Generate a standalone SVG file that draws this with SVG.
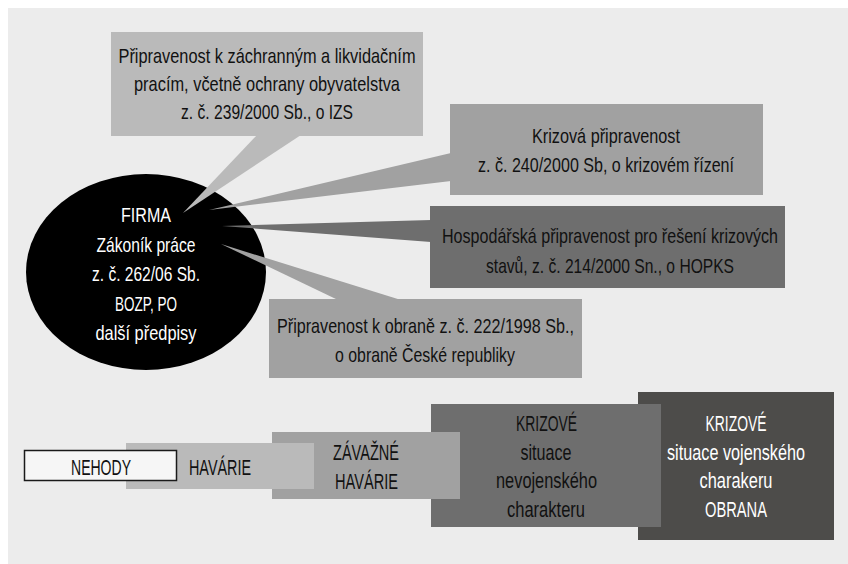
<svg xmlns="http://www.w3.org/2000/svg" width="848" height="564" viewBox="0 0 848 564">
<style>
text{font-family:"Liberation Sans",Arial,sans-serif;font-size:21px;text-anchor:middle;fill:#111}
.b{font-size:22px}
.w{fill:#fff}
.l1{fill:#bababa}
.l2{fill:#a1a1a1}
.l3{fill:#6e6e6e}
.l4{fill:#4d4c4a}
</style>
<rect x="0" y="0" width="848" height="564" fill="#ffffff"/>
<rect x="8" y="8" width="840" height="556" fill="#ececec"/>
<g id="firma">
<ellipse cx="146" cy="272" rx="120" ry="98" fill="#000"/>
<text class="w" x="146" y="222" textLength="50" lengthAdjust="spacingAndGlyphs">FIRMA</text>
<text class="w" x="146" y="252" textLength="99" lengthAdjust="spacingAndGlyphs">Zákoník práce</text>
<text class="w" x="146" y="281" textLength="108" lengthAdjust="spacingAndGlyphs">z. č. 262/06 Sb.</text>
<text class="w" x="146" y="311" textLength="62" lengthAdjust="spacingAndGlyphs">BOZP, PO</text>
<text class="w" x="146" y="340" textLength="101" lengthAdjust="spacingAndGlyphs">další předpisy</text>
</g>
<g id="connectors">
<polygon class="l1" points="257,135 301,135 183,213"/>
<polygon class="l2" points="451,153 451,181 209,210"/>
<polygon class="l3" points="431,220 431,242 222,226"/>
<polygon class="l2" points="338,300 401,300 221,244"/>
</g>
<g id="izs">
<rect class="l1" x="111" y="32" width="312" height="104"/>
<text x="267" y="63" textLength="297" lengthAdjust="spacingAndGlyphs">Připravenost k záchranným a likvidačním</text>
<text x="267" y="91" textLength="266" lengthAdjust="spacingAndGlyphs">pracím, včetně ochrany obyvatelstva</text>
<text x="267" y="119" textLength="172" lengthAdjust="spacingAndGlyphs">z. č. 239/2000 Sb., o IZS</text>
</g>
<g id="krizova">
<rect class="l2" x="450" y="104" width="313" height="91"/>
<text x="606" y="143" textLength="148" lengthAdjust="spacingAndGlyphs">Krizová připravenost</text>
<text x="606" y="172" textLength="256" lengthAdjust="spacingAndGlyphs">z. č. 240/2000 Sb, o krizovém řízení</text>
</g>
<g id="hopks">
<rect class="l3" x="430" y="206" width="355" height="82"/>
<text x="610" y="243" textLength="336" lengthAdjust="spacingAndGlyphs">Hospodářská připravenost pro řešení krizových</text>
<text x="610" y="273" textLength="248" lengthAdjust="spacingAndGlyphs">stavů, z. č. 214/2000 Sn., o HOPKS</text>
</g>
<g id="obrana-zakon">
<rect class="l2" x="269" y="299" width="313" height="79"/>
<text x="425.5" y="333" textLength="297" lengthAdjust="spacingAndGlyphs">Připravenost k obraně z. č. 222/1998 Sb.,</text>
<text x="425" y="362" textLength="180" lengthAdjust="spacingAndGlyphs">o obraně České republiky</text>
</g>
<g id="krizove-obrana">
<rect class="l4" x="638" y="392" width="196" height="148"/>
<text class="w b" x="736" y="431" textLength="61" lengthAdjust="spacingAndGlyphs">KRIZOVÉ</text>
<text class="w b" x="736" y="460" textLength="138" lengthAdjust="spacingAndGlyphs">situace vojenského</text>
<text class="w b" x="736" y="488" textLength="73" lengthAdjust="spacingAndGlyphs">charakeru</text>
<text class="w b" x="736" y="517" textLength="62" lengthAdjust="spacingAndGlyphs">OBRANA</text>
</g>
<g id="krizove-nevoj">
<rect class="l3" x="431" y="404" width="230" height="123"/>
<text class="b" x="546.5" y="431" textLength="61" lengthAdjust="spacingAndGlyphs">KRIZOVÉ</text>
<text class="b" x="546" y="460" textLength="51" lengthAdjust="spacingAndGlyphs">situace</text>
<text class="b" x="546.5" y="488" textLength="101" lengthAdjust="spacingAndGlyphs">nevojenského</text>
<text class="b" x="546" y="517" textLength="78" lengthAdjust="spacingAndGlyphs">charakteru</text>
</g>
<g id="zavazne">
<rect class="l2" x="272" y="432" width="188" height="67"/>
<text class="b" x="366" y="460" textLength="66" lengthAdjust="spacingAndGlyphs">ZÁVAŽNÉ</text>
<text class="b" x="366.5" y="489" textLength="63" lengthAdjust="spacingAndGlyphs">HAVÁRIE</text>
</g>
<g id="havarie">
<rect class="l1" x="126" y="443" width="188" height="46"/>
<text class="b" x="220" y="475" textLength="62" lengthAdjust="spacingAndGlyphs">HAVÁRIE</text>
</g>
<g id="nehody">
<rect x="24.5" y="450.5" width="152" height="30" fill="#f6f6f6" stroke="#1a1a1a" stroke-width="1.5"/>
<text class="b" x="101" y="475" textLength="60" lengthAdjust="spacingAndGlyphs">NEHODY</text>
</g>
</svg>
